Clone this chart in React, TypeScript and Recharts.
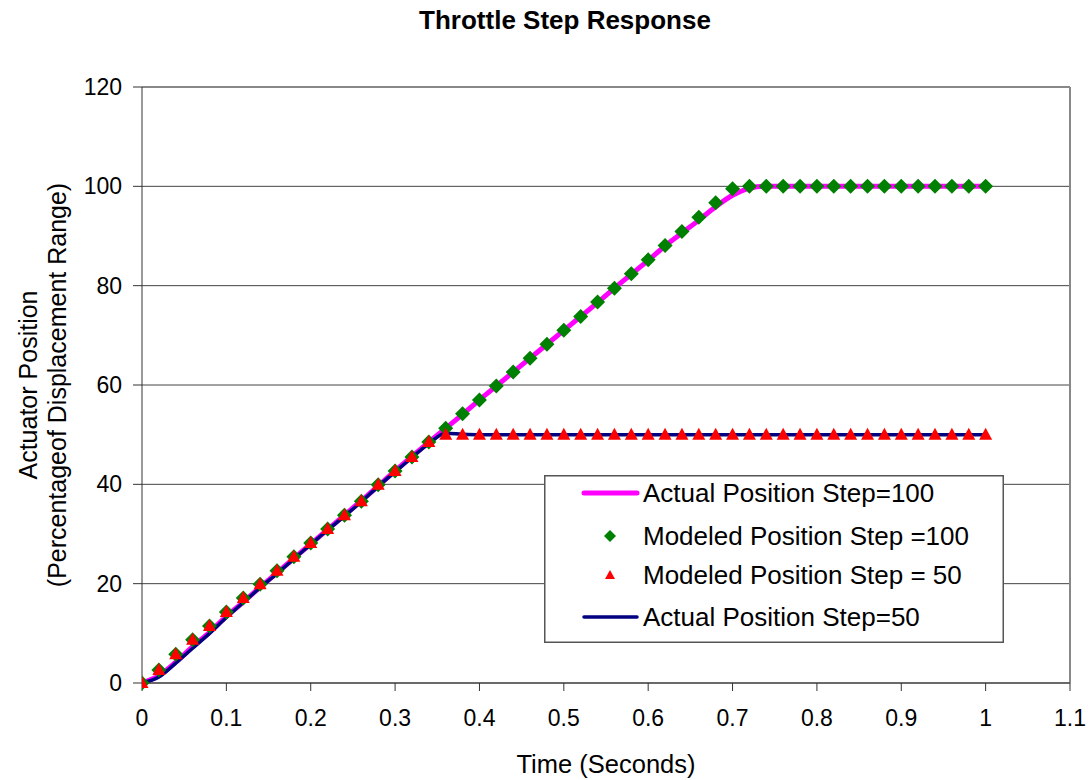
import React from 'react';
import { ComposedChart, Line, XAxis, YAxis, CartesianGrid, Legend, ReferenceLine, Label } from 'recharts';

const FONT = '"Liberation Sans", Arial, sans-serif';

const time = [
  0, 0.02, 0.04, 0.06, 0.08, 0.1, 0.12, 0.14, 0.16, 0.18,
  0.2, 0.22, 0.24, 0.26, 0.28, 0.3, 0.32, 0.34, 0.36, 0.38,
  0.4, 0.42, 0.44, 0.46, 0.48, 0.5, 0.52, 0.54, 0.56, 0.58,
  0.6, 0.62, 0.64, 0.66, 0.68, 0.7, 0.72, 0.74, 0.76, 0.78,
  0.8, 0.82, 0.84, 0.86, 0.88, 0.9, 0.92, 0.94, 0.96, 0.98, 1,
];

const actual100 = [
  0, 1.5, 4.2, 7.3, 10.2, 13.4, 16.3, 19.3, 22.2, 25.1,
  28, 30.9, 33.8, 36.7, 39.7, 42.7, 45.6, 48.5, 51.3, 54.1,
  57, 59.8, 62.6, 65.4, 68.2, 71, 73.8, 76.6, 79.5, 82.3,
  85.1, 88, 90.6, 93.2, 95.9, 98.2, 99.6, 100, 100, 100,
  100, 100, 100, 100, 100, 100, 100, 100, 100, 100, 100,
];

const modeled100 = [
  0, 2.6, 5.8, 8.7, 11.5, 14.3, 17.1, 19.9, 22.6, 25.4,
  28.2, 31, 33.8, 36.6, 39.9, 42.7, 45.5, 48.5, 51.3, 54.2,
  57, 59.8, 62.6, 65.4, 68.2, 71, 73.8, 76.7, 79.5, 82.4,
  85.2, 88.1, 90.9, 93.8, 96.7, 99.5, 100, 100, 100, 100,
  100, 100, 100, 100, 100, 100, 100, 100, 100, 100, 100,
];

const modeled50 = [
  0, 2.6, 5.8, 8.7, 11.5, 14.3, 17.1, 19.9, 22.6, 25.4,
  28.2, 31, 33.8, 36.6, 39.9, 42.7, 45.5, 48.5, 50, 50,
  50, 50, 50, 50, 50, 50, 50, 50, 50, 50,
  50, 50, 50, 50, 50, 50, 50, 50, 50, 50,
  50, 50, 50, 50, 50, 50, 50, 50, 50, 50, 50,
];

const actual50 = [
  0, 1.2, 4, 7, 10, 13.2, 16.2, 19.2, 22, 25,
  27.9, 30.8, 33.6, 36.5, 39.6, 42.5, 45.4, 48.2, 50.3, 50.1,
  50, 50, 50, 50, 50, 50, 50, 50, 50, 50,
  50, 50, 50, 50, 50, 50, 50, 50, 50, 50,
  50, 50, 50, 50, 50, 50, 50, 50, 50, 50, 50,
];

const xTicks = [0, 0.1, 0.2, 0.3, 0.4, 0.5, 0.6, 0.7, 0.8, 0.9, 1, 1.1];
const yTicks = [0, 20, 40, 60, 80, 100, 120];

const seriesNames = [
  'Actual Position Step=100',
  'Modeled Position Step =100',
  'Modeled Position Step = 50',
  'Actual Position Step=50',
];

const COLORS = { magenta: '#FF00FF', green: '#008000', red: '#FF0000', navy: '#000080' };

const data = time.map((t, i) => ({
  t,
  a100: actual100[i],
  m100: modeled100[i],
  m50: modeled50[i],
  a50: actual50[i],
}));

const Diamond = (props: any) => {
  const { cx, cy, index } = props;
  if (cx == null || cy == null) return <g key={`d${index}`} />;
  const r = 7.5;
  return (
    <polygon
      key={`d${index}`}
      points={`${cx},${cy - r} ${cx + r},${cy} ${cx},${cy + r} ${cx - r},${cy}`}
      fill={COLORS.green}
    />
  );
};

const Triangle = (props: any) => {
  const { cx, cy, index } = props;
  if (cx == null || cy == null) return <g key={`t${index}`} />;
  return (
    <polygon
      key={`t${index}`}
      points={`${cx},${cy - 7} ${cx + 6.5},${cy + 5} ${cx - 6.5},${cy + 5}`}
      fill={COLORS.red}
    />
  );
};

const renderLegend = () => {
  const rows = [18, 61, 100, 142];
  return (
    <svg width={460} height={168} style={{ display: 'block' }}>
      <rect x={0.75} y={0.75} width={458.5} height={166.5} fill="#fff" stroke="#555" strokeWidth={1.5} />
      <line x1={40} x2={93} y1={rows[0]} y2={rows[0]} stroke={COLORS.magenta} strokeWidth={5} strokeLinecap="round" />
      <polygon points={`66,${rows[1] - 6} 72,${rows[1]} 66,${rows[1] + 6} 60,${rows[1]}`} fill={COLORS.green} />
      <polygon points={`66,${rows[2] - 5} 71,${rows[2] + 4} 61,${rows[2] + 4}`} fill={COLORS.red} />
      <line x1={40} x2={93} y1={rows[3]} y2={rows[3]} stroke={COLORS.navy} strokeWidth={3.5} strokeLinecap="round" />
      {seriesNames.map((n, i) => (
        <text key={n} x={99} y={rows[i] + 9} fontSize={26} fontFamily={FONT} fill="#000">
          {n}
        </text>
      ))}
    </svg>
  );
};

const YLabel = (props: any) => {
  const vb = props.viewBox || { x: 0, y: 87, width: 142, height: 596 };
  const cy = vb.y + vb.height / 2;
  return (
    <g>
      <text x={37} y={cy} transform={`rotate(-90, 37, ${cy})`} textAnchor="middle" fontSize={25} fontFamily={FONT} fill="#000">
        Actuator Position
      </text>
      <text x={66} y={cy} transform={`rotate(-90, 66, ${cy})`} textAnchor="middle" fontSize={25} fontFamily={FONT} fill="#000">
        (Percentageof Displacement Range)
      </text>
    </g>
  );
};

const XLabel = (props: any) => {
  const vb = props.viewBox || { x: 142, y: 683, width: 928, height: 97 };
  return (
    <text x={vb.x + vb.width / 2} y={773} textAnchor="middle" fontSize={25.5} fontFamily={FONT} fill="#000">
      Time (Seconds)
    </text>
  );
};

export default function App() {
  return (
    <div style={{ position: 'absolute', left: 0, top: 0, width: 1089, height: 780, background: '#fff', fontFamily: FONT }}>
      <div
        style={{
          position: 'absolute',
          left: 365,
          top: 7,
          width: 400,
          textAlign: 'center',
          fontSize: 26,
          lineHeight: '26px',
          fontWeight: 'bold',
          fontFamily: FONT,
          color: '#000',
          zIndex: 2,
        }}
      >
        Throttle Step Response
      </div>
      <ComposedChart width={1089} height={780} data={data} margin={{ top: 87, right: 19, bottom: 0, left: 0 }}>
        <CartesianGrid horizontal vertical={false} stroke="#444" strokeWidth={1} />
        <XAxis
          dataKey="t"
          type="number"
          domain={[0, 1.1]}
          ticks={xTicks}
          allowDataOverflow
          height={97}
          tickSize={8}
          tickMargin={19}
          stroke="#333"
          tick={{ fill: '#000', fontSize: 23, fontFamily: FONT }}
          interval={0}
        >
          <Label content={<XLabel />} />
        </XAxis>
        <YAxis
          type="number"
          domain={[0, 120]}
          ticks={yTicks}
          width={142}
          tickSize={9}
          tickMargin={11}
          stroke="#333"
          tick={{ fill: '#000', fontSize: 23, fontFamily: FONT }}
          interval={0}
        >
          <Label content={<YLabel />} />
        </YAxis>
        <ReferenceLine x={1.1} stroke="#888" strokeWidth={2} />
        <ReferenceLine y={120} stroke="#888" strokeWidth={2} />
        <Line
          dataKey="a100"
          name={seriesNames[0]}
          type="monotone"
          stroke={COLORS.magenta}
          strokeWidth={5}
          dot={false}
          activeDot={false}
          isAnimationActive={false}
        />
        <Line
          dataKey="a50"
          name={seriesNames[3]}
          type="monotone"
          stroke={COLORS.navy}
          strokeWidth={3.5}
          dot={false}
          activeDot={false}
          isAnimationActive={false}
        />
        <Line
          dataKey="m100"
          name={seriesNames[1]}
          stroke="none"
          dot={<Diamond />}
          activeDot={false}
          isAnimationActive={false}
        />
        <Line
          dataKey="m50"
          name={seriesNames[2]}
          stroke="none"
          dot={<Triangle />}
          activeDot={false}
          isAnimationActive={false}
        />
        <Legend
          layout="horizontal"
          verticalAlign="middle"
          align="center"
          content={renderLegend}
          wrapperStyle={{ position: 'absolute', left: 544, top: 475, width: 460, height: 168, margin: 0, padding: 0 }}
        />
      </ComposedChart>
    </div>
  );
}
